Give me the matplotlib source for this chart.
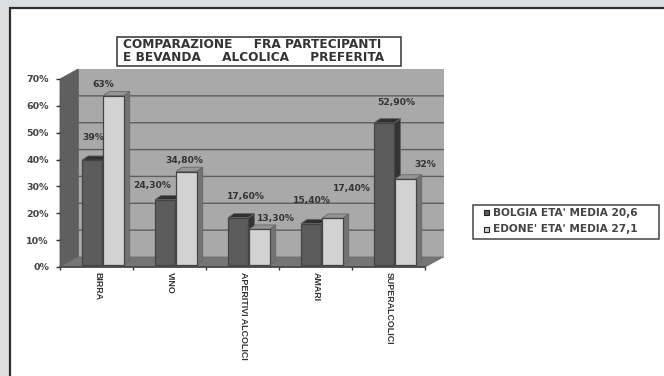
import matplotlib
matplotlib.use("Agg")
import matplotlib.pyplot as plt
from matplotlib.patches import Polygon, Rectangle

categories = ["BIRRA", "VINO", "APERITIVI ALCOLICI", "AMARI", "SUPERALCOLICI"]
bolgia = [39.0, 24.3, 17.6, 15.4, 52.9]
edone = [63.0, 34.8, 13.3, 17.4, 32.0]
bolgia_labels = ["39%", "24,30%", "17,60%", "15,40%", "52,90%"]
edone_labels = ["63%", "34,80%", "13,30%", "17,40%", "32%"]
y_ticks = [0, 10, 20, 30, 40, 50, 60, 70]
series_names = ["BOLGIA ETA' MEDIA 20,6", "EDONE' ETA' MEDIA 27,1"]
title_top = "COMPARAZIONE     FRA PARTECIPANTI"
title_bottom = "E BEVANDA     ALCOLICA     PREFERITA"

W, H = 664, 376
plt.rcParams["font.family"] = ["DejaVu Sans"]
fig = plt.figure(figsize=(W / 100, H / 100), dpi=100, facecolor="#dcdedf")

# page panel behind the chart, in pixel coordinates
page = fig.add_axes([0, 0, 1, 1])
page.set_xlim(0, W)
page.set_ylim(H, 0)
page.axis("off")
page.add_patch(Rectangle((10, 8), 660, 372, fc="white", ec="#2e2e2e", lw=1.6))

# plotting axes: front plane of the 3D box
left, right, bottom, top = 60, 425, 267, 79
ax = fig.add_axes([left / W, 1 - bottom / H, (right - left) / W, (bottom - top) / H])
ax.set_xlim(0, 5)
ax.set_ylim(0, 70)
ax.patch.set_alpha(0)
for s in ax.spines.values():
    s.set_visible(False)

DX, DY = 0.25, 3.72      # depth of the box
BX, BY = 0.085, 1.6      # depth of each bar
SX, SY = 0.03, 0.75      # gap between box front and bar front
BAR_W = 0.28

def poly(pts, fc, ec="#666666", lw=0.6, z=2):
    ax.add_patch(Polygon(pts, closed=True, fc=fc, ec=ec, lw=lw, zorder=z, clip_on=False))

# back wall, side wall, floor
poly([(DX, DY), (5 + DX, DY), (5 + DX, 70 + DY), (DX, 70 + DY)], "#a9a9a9", ec="#a0a0a0", z=1)
poly([(0, 0), (DX, DY), (DX, 70 + DY), (0, 70)], "#5f5f5f", ec="#5a5a5a", z=1)
poly([(0, 0), (5, 0), (5 + DX, DY), (DX, DY)], "#757575", ec="#6c6c6c", z=1)

# gridlines wrap from the side wall onto the back wall
for t in y_ticks[1:-1]:
    ax.plot([0, DX, 5 + DX], [t, t + DY, t + DY], color="#5e5e5e", lw=1.0, zorder=1.5, clip_on=False)

def bar(x0, value, front, side, cap):
    x = x0 + SX
    y0, y1 = SY, value + SY
    poly([(x + BAR_W, y0), (x + BAR_W + BX, y0 + BY), (x + BAR_W + BX, y1 + BY), (x + BAR_W, y1)], side)
    poly([(x, y1), (x + BAR_W, y1), (x + BAR_W + BX, y1 + BY), (x + BX, y1 + BY)], cap)
    poly([(x, y0), (x + BAR_W, y0), (x + BAR_W, y1), (x, y1)], front, ec="#444444", lw=0.9)

for i in range(len(categories)):
    # dark bar first: the light bar overlaps its side face
    bar(i + 0.27, bolgia[i], "#5c5c5c", "#333333", "#303030")
    bar(i + 0.56, edone[i], "#d2d2d2", "#737373", "#959595")

label_style = dict(fontsize=6.6, fontweight="bold", color="#333333", ha="center",
                   va="center", zorder=5, clip_on=False)
# label anchors relative to category start and bar value
bolgia_offsets = [(0.45, 9.4), (0.26, 5.9), (0.55, 8.5), (0.45, 9.2), (0.60, 8.5)]
edone_offsets = [(0.59, 4.8), (0.70, 5.0), (0.96, 4.9), (1.00, 12.0), (1.01, 6.0)]
for i in range(len(categories)):
    ax.text(i + bolgia_offsets[i][0], bolgia[i] + bolgia_offsets[i][1], bolgia_labels[i], **label_style)
    ax.text(i + edone_offsets[i][0], edone[i] + edone_offsets[i][1], edone_labels[i], **label_style)

ax.set_yticks(y_ticks)
ax.set_yticklabels([f"{t}%" for t in y_ticks], fontsize=6.8, fontweight="bold", color="#444444")
ax.set_xticks(range(6))
ax.set_xticklabels([])
ax.tick_params(axis="y", length=3, width=1, color="#333333", pad=5)
ax.tick_params(axis="x", length=2.5, width=1, color="#333333")
ax.plot([0, 5], [0, 0], color="#444444", lw=1.2, clip_on=False, zorder=3)

# rotated category names hang below the axis
for i, name in enumerate(categories):
    ax.annotate(name, (i + 0.5, 0), xytext=(1, -5), textcoords="offset pixels",
                rotation=-90, ha="center", va="top", fontsize=6.4, fontweight="bold",
                family="Liberation Sans", color="#333333", annotation_clip=False)

page.add_patch(Rectangle((117, 36.5), 284, 29, fc="white", ec="#333333", lw=1.1, zorder=5))
for y, line in zip((44.5, 57.5), (title_top, title_bottom)):
    page.text(123, y, line, fontsize=8.7, fontweight="bold", color="#333333",
              va="center", ha="left", zorder=6)

# legend box
page.add_patch(Rectangle((472.5, 205), 186, 33.5, fc="white", ec="#444444", lw=1.1))
for y, name, colour in zip((212.5, 229.5), series_names, ("#5c5c5c", "#d2d2d2")):
    page.add_patch(Rectangle((484, y - 2.5), 5, 5, fc=colour, ec="#222222", lw=0.8))
    page.text(493, y, name, fontsize=7.6, fontweight="bold", color="#444444", va="center", ha="left")

fig.savefig("out.png", dpi=100, facecolor=fig.get_facecolor())
